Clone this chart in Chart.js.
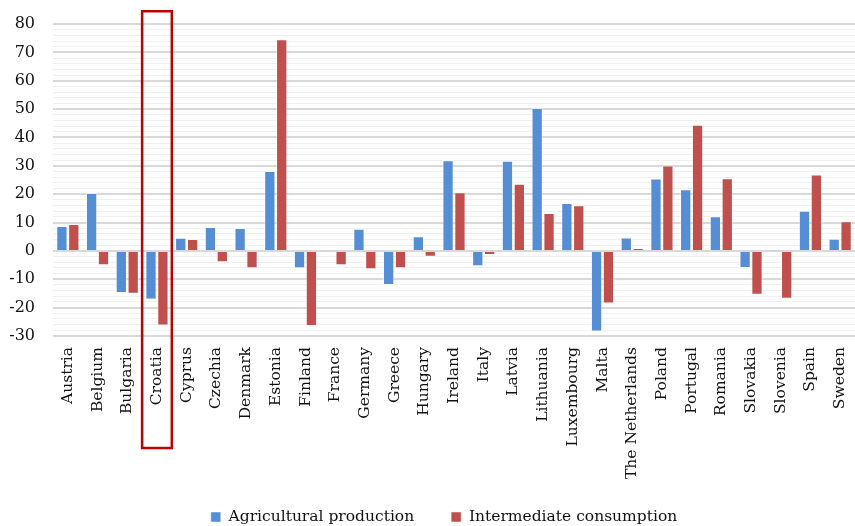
<!DOCTYPE html>
<html>
<head>
<meta charset="utf-8">
<script src="https://cdn.jsdelivr.net/npm/chart.js@4"></script>
<style>
  html, body { margin: 0; padding: 0; background: #ffffff; }
  #wrap { width: 855px; height: 526px; position: relative; }
</style>
</head>
<body>
<div id="wrap"><canvas id="c" width="855" height="526"></canvas></div>
<script>
const categories = ["Austria", "Belgium", "Bulgaria", "Croatia", "Cyprus", "Czechia", "Denmark", "Estonia", "Finland", "France", "Germany", "Greece", "Hungary", "Ireland", "Italy", "Latvia", "Lithuania", "Luxembourg", "Malta", "The Netherlands", "Poland", "Portugal", "Romania", "Slovakia", "Slovenia", "Spain", "Sweden"];
const agriculturalProduction = [8.8, 20.4, -14.8, -17.1, 4.6, 8.4, 8.1, 28.2, -6.1, 0, 7.8, -12.0, 5.2, 32.0, -5.4, 31.8, 50.4, 16.9, -28.4, 4.7, 25.5, 21.7, 12.2, -6.0, 0.1, 14.2, 4.3];
const intermediateConsumption = [9.5, -5.1, -15.1, -26.3, 4.2, -4.0, -6.1, 74.6, -26.5, -5.1, -6.5, -6.1, -2.1, 20.7, -1.4, 23.7, 13.4, 16.1, -18.5, 1.0, 30.1, 44.5, 25.6, -15.5, -16.9, 26.9, 10.5];
const seriesNames = ["Agricultural production", "Intermediate consumption"];
const yMin = -30, yMax = 80, yMinorStep = 2, yMajorStep = 10;
const highlightCategory = "Croatia";

const LEGEND_PAD = 37;
const LEGEND_FONT = 15.5;

const highlightBox = {
  id: 'highlightBox',
  afterLayout(chart) {
    // place legend row near the canvas bottom, slightly left of centre
    const lg = chart.legend;
    if (lg) {
      lg.top = 517 - LEGEND_PAD - LEGEND_FONT / 2;
      lg.bottom = chart.height;
      lg.left -= 20;
    }
  },
  afterDraw(chart) {
    const x = chart.scales.x, y = chart.scales.y;
    const idx = categories.indexOf(highlightCategory);
    const half = (x.getPixelForValue(1) - x.getPixelForValue(0)) / 2;
    const cx = x.getPixelForValue(idx);
    const top = y.getPixelForValue(84.5);
    const bottom = y.getPixelForValue(-69.5);
    const ctx = chart.ctx;
    ctx.save();
    ctx.strokeStyle = '#C00000';
    ctx.lineWidth = 2.5;
    ctx.strokeRect(cx - half, top, half * 2, bottom - top);
    ctx.restore();
  }
};

Chart.defaults.font.family = "'DejaVu Serif', serif";
Chart.defaults.font.size = 15.5;
Chart.defaults.color = '#111111';

new Chart(document.getElementById('c'), {
  type: 'bar',
  data: {
    labels: categories,
    datasets: [
      { label: seriesNames[0], data: agriculturalProduction, backgroundColor: '#558ED5', borderColor: 'rgba(255,255,255,0.45)', borderWidth: 1, categoryPercentage: 0.8, barPercentage: 0.95 },
      { label: seriesNames[1], data: intermediateConsumption, backgroundColor: '#C0504D', borderColor: 'rgba(255,255,255,0.45)', borderWidth: 1, categoryPercentage: 0.8, barPercentage: 0.95 }
    ]
  },
  options: {
    responsive: false,
    animation: false,
    layout: { padding: { top: 24, left: 0, right: 0, bottom: 0 } },
    plugins: {
      tooltip: { enabled: false },
      legend: {
        position: 'bottom',
        fullSize: false,
        maxHeight: 44,
        labels: { boxWidth: 10, boxHeight: 10, padding: LEGEND_PAD, font: { size: LEGEND_FONT } }
      }
    },
    scales: {
      x: {
        grid: { display: false, drawTicks: false },
        border: { display: false },
        ticks: { minRotation: 90, maxRotation: 90, padding: 11, autoSkip: false, font: { size: 15.5 } },
        afterFit(scale) { scale.height = 146; scale.paddingLeft = 0; scale.paddingRight = 0; }
      },
      y: {
        min: yMin, max: yMax,
        grid: {
          drawTicks: false,
          color: (c) => (c.tick && c.tick.value % yMajorStep === 0) ? '#D9D9D9' : '#F0F0F0',
          lineWidth: (c) => (c.tick && c.tick.value % yMajorStep === 0) ? 2 : 1
        },
        border: { display: false },
        ticks: {
          stepSize: yMinorStep, maxTicksLimit: 100, autoSkip: false, padding: 18,
          font: { size: 16 },
          callback: (v) => (v % yMajorStep === 0 ? v : '')
        },
        afterFit(scale) { scale.width = 53; scale.paddingTop = 0; scale.paddingBottom = 0; }
      }
    }
  },
  plugins: [highlightBox]
});
</script>
</body>
</html>
